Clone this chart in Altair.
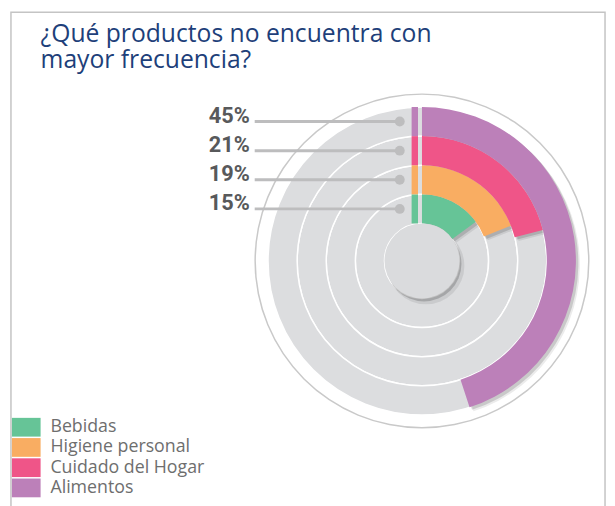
import math
import altair as alt
import pandas as pd

# ---- data ----
categories = ["Bebidas", "Higiene personal", "Cuidado del Hogar", "Alimentos"]
values = [15, 19, 21, 45]
value_labels = ["15%", "19%", "21%", "45%"]
colors = ["#66c497", "#f9ad62", "#ef5588", "#bc80b9"]
title_lines = ["¿Qué productos no encuentra con", "mayor frecuencia?"]

# ---- layout / style constants ----
W, H = 607, 498
CX, CY = 419.5, 253
R_IN, R_OUT = 38, 156
GRAY = "#dcdddf"
LINE_GRAY = "#bdbdbe"

ring = list(range(len(categories)))
df = pd.DataFrame({
    "cat": categories,
    "val": values,
    "label": value_labels,
    "k": ring,
})
df["k1"] = df["k"] + 1
df["mid"] = df["k"] + 0.5
df["zero"] = 0

bg = pd.DataFrame({"k": ring, "k1": [k + 1 for k in ring], "zero": 0, "full": 100})
one = pd.DataFrame({"a": [0]})

theta_scale = alt.Scale(domain=[0, 100], range=[0, 2 * math.pi])
rad_scale = alt.Scale(type="linear", domain=[0, 4], range=[R_IN, R_OUT])
y_scale = alt.Scale(domain=[0, 4], range=[CY - R_IN, CY - R_OUT])
color_scale = alt.Scale(domain=categories, range=colors)

# frame
frame = alt.Chart(one).mark_rect(filled=False, stroke="#c4c4c4", strokeWidth=1.5).encode(
    x=alt.value(3), x2=alt.value(605), y=alt.value(1), y2=alt.value(560)
)

outer_ring = alt.Chart(one).mark_arc(
    theta=0, theta2=2 * math.pi, radius=169.8, radius2=168.3, color="#c9c9c9"
).encode(x=alt.value(CX), y=alt.value(CY))

gray_rings = alt.Chart(bg).mark_arc(color=GRAY, stroke="white", strokeWidth=1.5).encode(
    x=alt.value(CX), y=alt.value(CY),
    theta=alt.Theta("zero:Q", scale=theta_scale),
    theta2="full:Q",
    radius=alt.Radius("k1:Q", scale=rad_scale),
    radius2="k:Q",
)

def shadow(dx, op):
    return alt.Chart(df).mark_arc(color="#000000", opacity=op).encode(
        x=alt.value(CX + dx), y=alt.value(CY + dx),
        theta=alt.Theta("zero:Q", scale=theta_scale),
        theta2="val:Q",
        radius=alt.Radius("k1:Q", scale=rad_scale),
        radius2="k:Q",
    )

arcs = alt.Chart(df).mark_arc().encode(
    x=alt.value(CX), y=alt.value(CY),
    theta=alt.Theta("zero:Q", scale=theta_scale),
    theta2="val:Q",
    radius=alt.Radius("k1:Q", scale=rad_scale),
    radius2="k:Q",
    color=alt.Color(
        "cat:N",
        scale=color_scale,
        sort=categories,
        legend=alt.Legend(
            title=None, orient="none", legendX=9, legendY=412,
            symbolType="M-1.53,-1L1.53,-1L1.53,1L-1.53,1Z",
            symbolSize=361, symbolStrokeWidth=0, symbolOpacity=1,
            labelFontSize=18, labelFont="Open Sans", labelColor="#6e6e6e",
            labelOffset=15, rowPadding=1.5, padding=0,
        ),
    ),
)

# small vertical strips just left of 12 o'clock
strips = alt.Chart(df).mark_rect().encode(
    x=alt.value(CX - 10.5), x2=alt.value(CX - 4),
    y=alt.Y("k:Q", scale=y_scale, axis=None), y2="k1:Q",
    color=alt.Color("cat:N", scale=color_scale, legend=None),
)

inner_shadow2 = alt.Chart(one).mark_arc(
    theta=0, theta2=2 * math.pi, radius=R_IN + 1, color="#000000", opacity=0.08
).encode(x=alt.value(CX + 4), y=alt.value(CY + 5))
inner_shadow = alt.Chart(one).mark_arc(
    theta=0, theta2=2 * math.pi, radius=R_IN, color="#000000", opacity=0.18
).encode(x=alt.value(CX + 2), y=alt.value(CY + 3))
inner = alt.Chart(one).mark_arc(
    theta=0, theta2=2 * math.pi, radius=R_IN, color="#dadbdd"
).encode(x=alt.value(CX), y=alt.value(CY))

leaders = alt.Chart(df).mark_rule(color=LINE_GRAY, strokeWidth=3).encode(
    x=alt.value(250), x2=alt.value(397),
    y=alt.Y("mid:Q", scale=y_scale, axis=None),
)
dots = alt.Chart(df).mark_circle(color=LINE_GRAY, size=100, opacity=1).encode(
    x=alt.value(397), y=alt.Y("mid:Q", scale=y_scale, axis=None),
)
labels = alt.Chart(df).mark_text(
    align="right", baseline="middle", font="Roboto", fontWeight="bold",
    fontSize=22, color="#58595b", dy=-6,
).encode(
    x=alt.value(245), y=alt.Y("mid:Q", scale=y_scale, axis=None), text="label:N"
)

title1 = alt.Chart(one).mark_text(
    align="left", baseline="alphabetic", font="Open Sans", fontSize=25, color="#1e3f7a",
).encode(x=alt.value(33), y=alt.value(31), text=alt.value(title_lines[0]))
title2 = alt.Chart(one).mark_text(
    align="left", baseline="alphabetic", font="Open Sans", fontSize=25, color="#1e3f7a",
).encode(x=alt.value(33), y=alt.value(57), text=alt.value(title_lines[1]))

chart = alt.layer(
    frame, outer_ring, gray_rings, shadow(4, 0.08), shadow(2.5, 0.14), arcs, strips,
    inner_shadow2, inner_shadow, inner, leaders, dots, labels, title1, title2,
).properties(
    width=W, height=H, padding=0, autosize=alt.AutoSizeParams(type="none")
).configure_view(stroke=None)

chart.save("out.html", embed_options={"renderer": "svg", "actions": False})
